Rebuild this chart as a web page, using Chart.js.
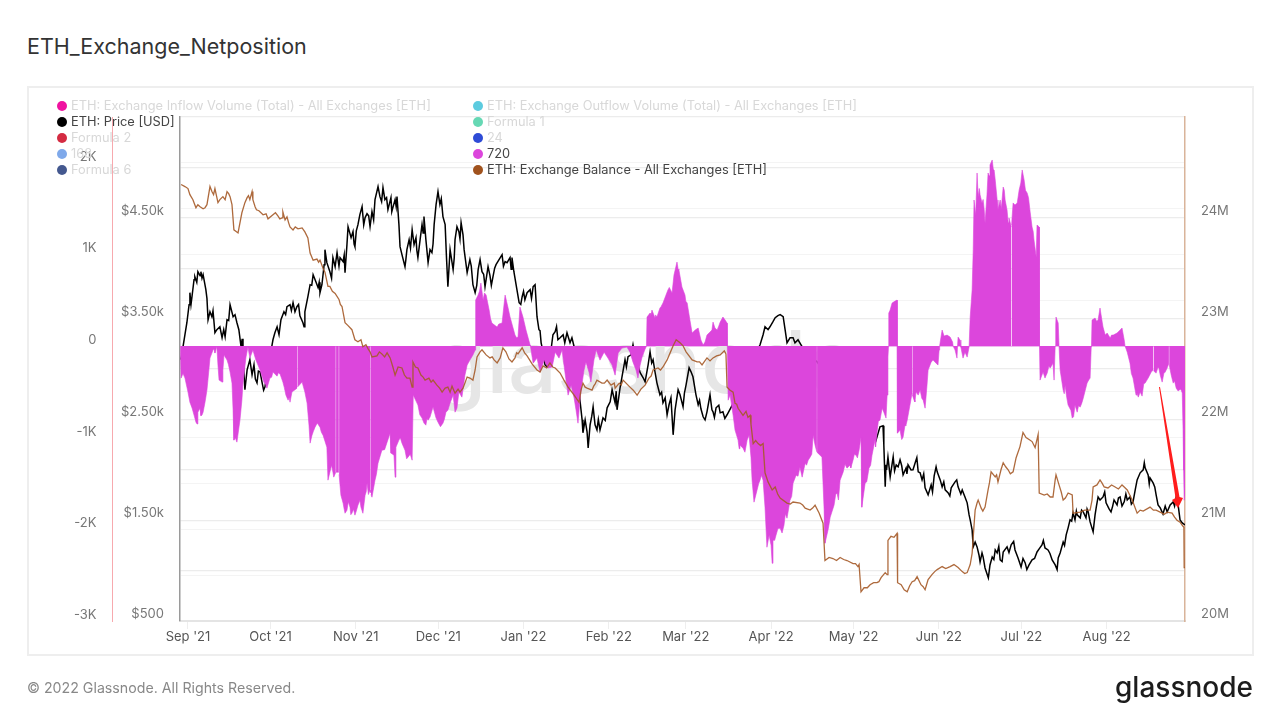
<!DOCTYPE html>
<html>
<head>
<meta charset="utf-8">
<title>ETH_Exchange_Netposition</title>
<script src="https://cdn.jsdelivr.net/npm/chart.js@4"></script>
<style>
  html, body { margin: 0; padding: 0; background: #fff; width: 1280px; height: 720px; overflow: hidden; font-family: Inter, sans-serif; }
  #title { position: absolute; left: 27px; top: 33px; font-size: 21.5px; line-height: 26px; font-weight: 400; color: #333; }
  #card { position: absolute; left: 27px; top: 86px; width: 1223px; height: 566px; border: 2px solid #eeeeee; }
  #chart { position: absolute; left: 0; top: 0; }
  #legend div { position: absolute; font-size: 12.8px; line-height: 16px; white-space: nowrap; }
  #legend i { position: absolute; left: -14px; top: 3px; width: 10px; height: 10px; border-radius: 50%; }
  #copy { position: absolute; left: 27px; top: 679px; font-size: 14.2px; line-height: 18px; color: #888; }
  #logo { position: absolute; right: 27px; top: 668px; font-size: 28px; line-height: 38px; font-weight: 500; color: #1c1c1c; }
</style>
</head>
<body>
<div id="title">ETH_Exchange_Netposition</div>
<div id="card"></div>
<canvas id="chart" width="1280" height="720"></canvas>
<div id="legend"></div>
<div id="copy">© 2022 Glassnode. All Rights Reserved.</div>
<div id="logo">glassnode</div>

<script>
// days are counted from 1 Sep 2021
const monthDays = [0, 30, 61, 91, 122, 153, 181, 212, 242, 273, 303, 334];
const monthLabels = ["Sep '21", "Oct '21", "Nov '21", "Dec '21", "Jan '22", "Feb '22", "Mar '22", "Apr '22", "May '22", "Jun '22", "Jul '22", "Aug '22"];

const netTicks = [-3000, -2500, -2000, -1500, -1000, -500, 0, 500, 1000, 1500, 2000];
const netTickLabels = ["-3K", "", "-2K", "", "-1K", "", "0", "", "1K", "", "2K"];
const priceTicks = [500, 1000, 1500, 2000, 2500, 3000, 3500, 4000, 4500, 5000, 5500];
const priceTickLabels = ["$500", "", "$1.50k", "", "$2.50k", "", "$3.50k", "", "$4.50k", "", ""];
const balanceTicks = [20, 21, 22, 23, 24];
const balanceTickLabels = ["20M", "21M", "22M", "23M", "24M"];

const legendNames = [
  "ETH: Exchange Inflow Volume (Total) - All Exchanges [ETH]", "ETH: Price [USD]", "Formula 2", "168", "Formula 6",
  "ETH: Exchange Outflow Volume (Total) - All Exchanges [ETH]", "Formula 1", "24", "720", "ETH: Exchange Balance - All Exchanges [ETH]"
];
const legendColors = ["#f012a0", "#000000", "#d42b42", "#7fa9ea", "#44588f", "#5ccbdf", "#66d8b4", "#2e4bd6", "#dc46dc", "#a0521d"];
const legendActive = [false, true, false, false, false, false, false, false, true, true];

const priceDays = [
  -2.5,-1.8,-1.1,-0.4,0.4,0.7,1.5,2.2,2.5,3.6,
  4.4,4.7,5.5,6.5,7.3,8,8.7,9.1,9.8,10.5,
  11.6,12.4,13.5,14.2,15.3,16.4,17.1,17.8,18.5,19.3,
  20,20.7,21.5,22.5,23.3,24,25.1,26.2,26.9,28,
  29.1,30.9,31.6,32.4,33.1,33.8,34.9,36,37.1,38.2,
  38.9,39.6,40.7,41.8,42.5,43.6,44.4,45.5,46.5,47.3,
  48,48.7,49.5,49.8,50.5,51.6,52.7,53.5,54.2,55.3,
  56.4,57.1,57.8,58.2,59.3,60,60.7,61.8,62.5,63.3,
  64.4,65.1,66.2,66.9,68,69.1,69.8,70.9,71.6,72.7,
  73.8,74.5,75.3,76,76.7,77.1,77.8,78.9,79.6,80.4,
  81.5,82.2,82.9,83.6,84.4,85.1,85.8,86.5,87.3,88,
  88.7,89.5,90.2,90.9,91.6,92.7,93.5,94.5,95.3,96.4,
  97.1,97.8,98.5,99.3,100.4,101.5,102.5,103.6,104.4,105.5,
  106.2,106.9,108,109.1,109.8,110.9,112,113.1,114.2,115.3,
  116,117.1,117.8,118.5,119.6,120.4,121.5,122.5,123.3,124.4,
  125.5,126.2,126.9,127.6,128.4,129.1,129.8,130.5,131.3,132,
  132.7,133.5,134.5,135.3,136.4,137.8,138.9,140.4,141.8,142.5,
  143.3,143.6,144.4,145.1,145.5,146.2,147.3,148,148.7,149.8,
  150.9,152.4,153.5,154.2,155.3,156,157.1,157.8,158.9,160,
  161.1,161.8,162.9,164.4,165.5,166.2,167.3,168,169.1,169.8,
  170.5,171.6,172.7,173.5,174.2,174.9,175.6,176.4,177.1,178.2,
  178.9,180,181.1,182.2,182.9,183.6,184.7,185.5,186.5,187.3,
  188,188.7,189.8,190.5,190.9,192,193.5,194.5,196,198.9,
  202.5,206.2,208,209.1,209.8,210.9,211.6,212.7,213.5,214.5,
  215.3,216.4,217.1,217.8,218.9,220,220.7,221.8,224.4,228.7,
  233.5,238.9,244.4,248,250.2,251.6,252.7,253,253.5,253.8,
  254.5,255.3,256.4,257.5,258.2,258.9,260,261.1,261.8,262.9,
  264.4,265.5,266.2,266.9,268,269.1,270.2,271.3,272.4,273.5,
  274.2,275.3,276.4,277.5,278.9,280,281.5,282.5,283.3,284,
  284.4,285.1,285.5,286.2,286.9,287.6,288,288.7,289.1,289.8,
  291,291.6,292.4,293.5,294.2,295.3,296.4,297.8,299.3,300.7,
  301.8,302.9,304.4,305.8,306.9,308.7,310.5,311.6,312.7,314.2,
  315.3,316.4,317.1,318.2,319.3,320,320.7,321.8,322.5,323.3,
  324.4,325.5,326.5,327.3,328,329.1,329.8,330.9,331.6,332.7,
  333.8,334.9,335.6,336.7,337.8,338.9,340.4,341.5,342.5,343.6,
  344.4,345.1,346.2,347.3,348,349.1,349.8,350.9,352,352.7,
  353.5,354.5,356,357.1,358.2,359.3,360,360.7,361.5,362.5
];
const priceValues = [
  3092,3221,3340,3459,3638,3757,3727,3886,3916,3965,
  3926,3965,3936,3787,3489,3568,3519,3578,3360,3390,
  3419,3310,3320,3489,3638,3519,3539,3459,3390,3221,
  3122,2794,2992,3092,2943,3042,2863,2972,2873,2823,
  3042,3290,3360,3419,3340,3489,3568,3618,3638,3658,
  3568,3618,3528,3459,3568,3717,3836,3936,3866,3807,
  3757,3836,4035,4184,4055,3965,4105,4015,4154,4105,
  4065,3956,4234,4412,4303,4363,4214,4432,4531,4611,
  4502,4541,4412,4561,4680,4809,4710,4800,4680,4581,
  4700,4601,4680,4710,4432,4214,4134,4015,4184,4283,
  4382,4234,4303,4105,4283,4432,4512,4283,4055,4184,
  4154,4432,4631,4760,4631,4512,4432,3817,4184,3985,
  4283,4412,4363,4452,4184,3956,4085,3836,3757,3985,
  4085,3965,3817,4015,3926,3916,4035,4085,4134,4065,
  4055,4105,4105,3965,3787,3658,3717,3687,3757,3787,
  3817,3836,3519,3390,3260,3171,3042,3022,3141,3191,
  3340,3370,3290,3310,3340,3360,3260,3221,2992,2694,
  2496,2367,2496,2377,2218,2446,2625,2446,2396,2396,
  2516,2615,2675,2794,2665,2595,2814,2923,3092,3122,
  3141,3241,3072,2963,2913,2873,3042,3171,3092,2972,
  2863,2744,2665,2714,2546,2645,2714,2347,2595,2794,
  2744,2625,2843,3012,2972,2923,2744,2645,2605,2526,
  2496,2575,2744,2595,2575,2615,2565,2575,2546,2694,
  2992,3141,3241,3340,3419,3390,3419,3469,3509,3529,
  3539,3519,3390,3260,3310,3310,3260,3290,3171,3072,
  2893,2694,2595,2496,2297,2426,2436,2248,1831,2049,
  2128,1930,2128,2049,2029,2099,1950,2019,2049,1999,
  2069,1980,1970,1900,1821,1751,1850,1940,1980,1900,
  1831,1801,1771,1821,1880,1831,1801,1731,1672,1552,
  1503,1403,1235,1284,1235,1155,1086,1175,1135,1026,
  927,1056,1135,1205,1175,1106,1185,1235,1255,1205,
  1126,1036,1076,1056,1106,1185,1255,1225,1205,1106,
  1056,1126,1175,1284,1354,1424,1503,1573,1503,1553,
  1523,1582,1523,1582,1483,1384,1553,1731,1701,1731,
  1672,1612,1582,1701,1652,1731,1682,1701,1731,1682,
  1801,1900,1970,2000,2019,1950,1920,1870,1751,1652,
  1622,1562,1582,1652,1682,1731,1652,1503,1473,1453
];
// smaller wiggles of the price line, merged in by day
const priceWiggleDays = [
  1.1,3.2,5.1,6.9,13,14.8,19.7,24.5,25.6,27.5,
  30,35.5,37.6,40.2,42.2,45,47.7,52.2,54.9,56.8,
  60.4,61.2,63.9,65.7,67.5,70.4,72.2,74.1,75.7,79.2,
  80.9,83.2,85.5,89.1,92.1,94,96.8,98.9,100,103,
  105,107.5,110.3,111.5,114.7,117.5,121,122,124.9,128,
  131.7,134,137,139.6,146.8,149.2,151.7,155.7,159.4,163.6,
  168.6,172.2,180.5,186,191.4,193,195.2,254,256.9,259.5,
  261.4,263.6,265,267.5,270.7,272,274.8,277,279.5,281,
  293,294.8,296,298.5,300.2,303.6,305,307.8,309.6,311,
  313.4,316,318.7,321.3,323,324.9,326.9,330.3,333.3,336.2,
  338.3,339.6,341,343,347.7,349.5,351.5,355.3,358.7
];
const priceWiggleValues = [
  3640,3860,3900,3700,3390,3480,3300,2900,2980,2790,
  3150,3540,3580,3640,3420,3830,3860,3900,4020,4130,
  4240,4370,4430,4520,4480,4660,4700,4560,4610,4080,
  4200,4180,4350,4240,4690,4100,4100,4290,4330,4020,
  3830,3940,3830,4000,4020,3990,3640,3770,3700,3380,
  3050,3420,3260,3310,2530,2500,2490,2780,3020,3040,
  3060,2770,2760,2690,2520,2640,2510,2000,1990,2040,
  1960,2000,2120,1960,1780,2030,1880,1740,1900,1760,
  1110,1240,1090,1180,1290,1120,1010,1120,1220,1300,
  1170,1010,1250,1490,1590,1600,1610,1640,1780,1640,
  1720,1640,1760,1660,2070,1860,1830,1640,1640
];

const balanceDays = [
  -2.5,-1.1,0,0.7,1.8,2.9,3.6,4.4,5.5,6.9,
  8,8.7,9.8,10.9,11.6,12.7,13.5,14.2,15.3,16,
  16.7,18.2,19.6,20.7,21.5,22.5,23.3,23.6,24.4,25.8,
  27.3,28.4,29.1,30.9,32.7,34.2,34.5,35.3,36,37.1,
  38.2,40,41.5,42.5,43.6,44.4,45.5,46.9,48,49.1,
  49.8,50.9,51.6,53.5,54.9,56,57.1,58.2,59.6,60.7,
  61.8,62.9,63.6,64.7,66.2,66.9,68.7,70.5,72.4,73.5,
  74.5,75.3,76.4,77.8,79.6,80.7,81.5,81.8,83.6,84.7,
  86.2,87.6,89.1,90.5,92.4,93.5,94.5,95.3,96,97.1,
  98.2,98.9,100,101.5,102.5,103.6,104.4,105.1,106.2,106.9,
  108.4,109.8,111.3,112.4,113.5,114.5,115.6,116.7,117.8,118.9,
  120,121.5,123.3,125.1,126.9,129.1,131.6,133.5,135.3,136.7,
  138.2,140.4,142.2,142.9,143.6,145.1,146.9,148,148.7,150.5,
  152.4,153.8,155.3,156.8,158.2,160.7,163.3,164.7,166.2,167.6,
  169.1,170.9,172.7,174.2,175.3,176.4,177.5,178.9,181.1,183.3,
  185.1,186.9,188.7,190.9,193.5,195,195.6,196,197.1,198.2,
  198.9,200,201.8,202.9,204.4,204.7,205.5,207.3,209.1,209.8,
  210.9,212.4,213.5,215.3,217.8,220,222.5,224.4,226.2,228,
  229.5,230.9,231.6,233.1,234.5,237.1,239.6,241.8,243.6,244,
  244.7,245.8,248,250.5,252,253.5,254.2,254.5,255.6,257.8,
  258,259.3,260.4,261.5,263.3,265.1,266.5,268,269.1,270.5,
  272.4,274.2,277.1,280,281.5,283.3,284.4,285.1,285.8,286.2,
  286.9,287.3,288.4,289.8,290.9,292,293.5,294.5,295.6,296.4,
  298.2,300,301.1,302.5,303.6,305.8,308,309.1,309.5,311.3,
  313.5,314.5,315.3,315.6,316.7,318.2,320,321.5,321.8,324.4,
  328,328.7,329.1,330.5,331.6,333.1,334.5,337.1,339.6,341.5,
  343.3,345.1,347.3,349.8,352,354.2,356,357.8,359.6,360.7,
  361.5,362.1,362.2,362.5
];
const balanceValues = [
  24.33,24.31,24.29,24.23,24.18,24.10,24.13,24.11,24.09,24.13,
  24.31,24.26,24.29,24.15,24.18,24.21,24.18,24.26,24.21,24.13,
  23.88,23.85,24.05,24.15,24.20,24.18,24.26,24.18,24.11,24.07,
  24.03,24.04,23.99,24.03,24.02,24.00,24.06,23.98,24.01,23.91,
  23.88,23.89,23.90,23.86,23.80,23.65,23.58,23.59,23.58,23.50,
  23.46,23.32,23.32,23.25,23.19,23.12,22.96,22.93,22.89,22.79,
  22.77,22.79,22.72,22.74,22.67,22.62,22.63,22.65,22.66,22.61,
  22.52,22.44,22.52,22.51,22.41,22.41,22.32,22.57,22.51,22.44,
  22.39,22.41,22.39,22.34,22.27,22.31,22.32,22.27,22.33,22.26,
  22.30,22.27,22.31,22.42,22.41,22.39,22.49,22.62,22.67,22.69,
  22.64,22.61,22.59,22.56,22.61,22.71,22.67,22.60,22.57,22.61,
  22.65,22.71,22.63,22.55,22.49,22.53,22.56,22.51,22.46,22.39,
  22.32,22.24,22.17,22.29,22.36,22.31,22.29,22.35,22.39,22.36,
  22.39,22.34,22.31,22.36,22.39,22.32,22.24,22.30,22.34,22.41,
  22.49,22.51,22.52,22.59,22.66,22.73,22.79,22.76,22.67,22.59,
  22.57,22.54,22.61,22.61,22.64,22.68,22.65,22.32,22.29,22.27,
  22.16,22.11,22.04,22.08,22.04,21.95,21.76,21.76,21.76,21.47,
  21.38,21.30,21.33,21.22,21.17,21.18,21.17,21.12,21.10,21.15,
  21.07,20.97,20.60,20.63,20.62,20.63,20.60,20.57,20.54,20.56,
  20.29,20.33,20.36,20.38,20.43,20.48,20.46,20.80,20.84,20.87,
  20.38,20.36,20.31,20.29,20.39,20.44,20.36,20.31,20.41,20.46,
  20.51,20.54,20.54,20.53,20.49,20.48,20.56,20.67,20.95,21.10,
  21.17,21.20,21.12,21.13,21.30,21.48,21.43,21.38,21.50,21.57,
  21.50,21.48,21.62,21.73,21.87,21.80,21.72,21.85,21.27,21.25,
  21.23,21.23,21.40,21.45,21.35,21.20,21.27,21.25,21.07,21.08,
  21.10,21.20,21.33,21.35,21.40,21.33,21.32,21.33,21.35,21.30,
  21.20,21.07,21.09,21.13,21.10,21.07,21.08,21.07,21.00,20.98,
  20.95,20.93,20.53,20.53
];
const balanceWiggleDays = [
  2.2,6.2,9.3,14.8,22,24.9,31.8,33.4,36.6,39,
  47.5,52.5,55.4,65.5,69.6,71.5,78.7,82.7,85.5,88.4,
  91.5,110.6,114,119.5,122.4,128,130.4,132.6,144.4,147.5,
  151.4,155,157.5,161.9,168.4,171.8,180,186,189.8,192.2,
  199.5,203.6,206.4,208.2,214.4,219,223.5,227.1,235.8,238.4,
  242.7,247,249.3,251.2,256.7,262.4,264.2,267.3,271.5,275.5,
  278.5,282.4,289,291.4,294,297.3,299,304.7,306.9,312.4,
  317.5,319,326,332.3,335.8,338.3,340.4,346.2,351,355,
  358.7
];
const balanceWiggleValues = [
  24.15,24.10,24.23,24.24,24.22,24.08,24.05,23.99,23.95,23.91,
  23.56,23.27,23.14,22.70,22.67,22.62,22.44,22.52,22.42,22.37,
  22.31,22.62,22.66,22.66,22.66,22.47,22.51,22.52,22.32,22.33,
  22.36,22.36,22.34,22.29,22.43,22.49,22.73,22.57,22.58,22.63,
  22.15,22.02,21.79,21.74,21.26,21.16,21.15,21.12,20.60,20.61,
  20.57,20.33,20.38,20.39,20.83,20.35,20.40,20.34,20.49,20.52,
  20.56,20.47,21.09,21.37,21.45,21.53,21.46,21.82,21.78,21.26,
  21.28,21.22,21.10,21.37,21.35,21.31,21.33,21.10,21.10,21.06,
  21.03
];

// the "720" series, null marks the thin breaks in the area
const netDays = [
  -2.8,-2.5,-1.1,0,0.7,1.5,2.2,2.9,3.6,4.4,
  5.1,5.5,6.2,6.9,7.6,8,9.1,9.8,10.5,10.9,
  11.3,12.4,12.7,13.1,14.2,15.3,16,16.4,16.7,17.8,
  18.5,18.9,19.6,20,21.1,21.8,22.5,23.6,24.7,26.2,
  27.6,28.7,29.8,30.9,32.4,33.5,34.5,35.6,36.4,37.1,
  37.8,39.66,39.7,39.74,41.5,42.5,43.3,44,44.4,45.1,
  46.2,48,49.1,50.5,50.9,51.6,52.7,53.76,53.8,53.84,
  54.86,54.9,54.94,55.6,56.4,57.1,57.8,58.9,59.6,60.7,
  61.8,62.5,63.6,64.4,65.1,66.2,66.46,66.5,66.54,66.9,
  68,69.1,70.5,72.4,73.5,73.8,74.9,75.3,75.6,76.7,
  77.8,78.9,80,81.5,81.8,81.9,83.6,85.1,86.5,87.3,
  88,89.1,90.2,90.9,92.7,93.8,95.3,96.4,97.1,97.8,
  98.5,99.6,100.7,101.5,102.5,103.6,104.4,104.5,104.7,105.5,
  106.5,107.3,108.4,109.5,110.5,112.4,114.2,114.9,115.3,116.4,
  117.1,118.9,120,120.7,121.8,122.9,123.6,124.4,124.5,125.5,
  126.9,128,129.5,130.9,132.4,133.5,134.9,136,137.1,138.2,
  139.3,140.4,141.1,141.8,142.5,143.3,144,144.7,145.8,146.5,
  147.6,148.4,149.8,151.3,152.7,154.2,155.3,156.4,157.8,159.6,
  160.7,161.8,162.9,163.6,164.4,165.1,166.2,166.7,166.9,168,
  168.7,169.8,170.5,171.6,172.7,173.8,174.5,176,176.7,177.8,
  178.5,179.6,180.7,181.5,182.5,183.3,184.4,185.5,186.5,187.3,
  188,188.7,189.8,190.5,190.9,191.6,192.4,193.5,194.5,195.3,
  196,196.1,196.4,197.1,198.2,198.9,200,200.7,201.8,202.5,
  203.3,204,204.7,205.1,205.8,206.9,208,209.1,209.8,210.5,
  211.3,212,212.4,212.7,213.8,215.3,216.7,217.8,218.9,220,
  221.1,222.5,223.3,224.4,225.5,226.2,227.3,228,228.66,228.7,
  228.74,229.8,230.5,231.3,231.6,232.7,233.5,234.9,236,237.1,
  238.2,239.6,240.7,241.8,242.9,244,244.7,245,246.2,247.6,
  248.7,249.8,250.5,251.6,252.4,253,253.8,254.2,254.5,254.7,
  254.8,255.3,256,257.1,257.8,257.9,258,258.9,260,260.7,
  261.5,262.5,263.26,263.3,263.34,264,264.7,265.5,266.2,267.3,
  268,268.7,269.1,270.2,270.9,272,272.7,273.1,273.3,273.5,
  274.2,274.9,276,277.1,278,278.2,278.9,279.6,279.8,280,
  280.7,281,281.8,282.5,283.3,284,284.4,285.1,285.5,285.8,
  286.4,286.9,287.3,288,288.7,289.5,289.8,290.5,290.9,291.6,
  292.4,293.1,293.5,294.2,294.5,295.3,296.4,297.1,297.8,298.5,
  299.36,299.4,299.44,300,300.7,301.5,302.2,303.3,304,305.1,
  306.2,306.9,307.6,308.4,308.7,309.5,309.6,309.8,310.9,311.6,
  312.4,313.5,314.5,314.9,315.3,315.5,315.6,316.4,316.7,317.1,
  318.2,318.9,320,321.5,322.5,323.3,324.4,325.5,326.9,328,
  328.4,328.5,328.7,329.8,330.9,331.6,332.4,332.7,334.2,335.3,
  336.4,337.8,338.9,339.6,340.4,340.7,341.5,342.5,343.6,344.7,
  345.5,346.2,346.9,348,349.1,350.2,350.96,351,351.04,352,
  352.7,353.5,354.2,355.3,356.66,356.7,356.74,357.5,358.2,359.3,
  360.4,361.5,361.8,362,362.2,362.5
];
const netValues = [
  0,-349,-349,-502,-612,-677,-753,-830,-721,-677,
  -753,-721,-612,-480,-262,-131,-44,-76,-5,-207,
  -371,-393,-262,-98,-153,-284,-404,-699,-1026,-1048,
  -895,-808,-590,-404,-120,-11,-131,-44,-153,-262,
  -393,-459,-349,-284,-328,-306,-393,-535,-590,-612,
  -502,-459,null,-450,-393,-502,-622,-863,-1059,-972,
  -885,-885,-972,-1103,-1463,-1376,-1376,-1376,null,-1376,
  -1376,null,-1400,-1627,-1714,-1824,-1791,-1758,-1824,-1845,
  -1736,-1682,-1824,-1627,-1496,-1572,-1600,null,-1620,-1649,
  -1463,-1278,-1136,-1048,-950,-1168,-1190,-1430,-1103,-1026,
  -1059,-1136,-1212,-1245,-1245,-535,-644,-786,-863,-808,
  -775,-666,-786,-830,-841,-721,-622,-535,-721,-677,
  -502,-557,-317,-207,-153,-98,-44,0,502,557,
  688,502,557,393,251,207,251,448,557,415,
  317,120,98,426,317,175,98,11,0,-186,
  -131,-284,-153,-240,-229,-66,-131,-44,-295,-535,
  -426,-568,-699,-841,-590,-404,-262,-175,-284,-393,
  -153,-44,-153,-66,-131,-207,-317,-76,-22,-11,
  -66,-175,-262,-349,-207,-120,-33,0,317,360,
  393,306,317,415,470,557,612,579,775,917,
  830,644,557,470,284,142,175,197,66,11,
  44,120,153,175,262,197,175,262,317,284,
  251,0,-590,-535,-753,-917,-1026,-1081,-1114,-1158,
  -1026,-972,-1212,-1463,-1703,-1572,-1463,-1463,-1758,-2195,
  -2064,-2173,-2370,-2118,-2064,-1987,-1955,-1878,-1682,-1496,
  -1409,-1321,-1430,-1278,-1245,-1212,-972,-1081,-1158,null,
  -1160,-1190,-1212,-1791,-2151,-2009,-1867,-1736,-1605,-1463,
  -1376,-1332,-1299,-1245,-1190,-1136,-994,-1758,-1496,-1332,
  -1190,-1026,-950,-808,-677,-721,-786,-535,-120,0,
  360,393,470,491,502,0,-950,-917,-994,-863,
  -808,-644,-513,null,-530,-590,-502,-535,-480,-590,
  -677,-426,-262,-175,-153,-186,-207,-44,0,44,
  175,109,120,98,44,0,-44,-131,0,98,
  66,-11,-131,-66,-120,-11,317,612,1048,1594,
  1431,1889,1627,1649,1562,1485,1343,1649,1889,1977,
  2031,1922,1813,1594,1485,1594,1736,1594,1485,1398,
  1299,null,1320,1562,1540,1562,1704,1922,1813,1671,
  1463,1299,1158,972,1321,1299,0,-371,-284,-349,
  -295,-240,-186,-371,0,229,317,251,0,-262,
  -480,-426,-644,-786,-644,-721,-666,-568,-404,-349,
  -11,0,284,306,284,415,262,207,142,87,
  120,142,175,197,66,0,-66,-186,-349,-535,
  -557,-502,-546,-404,-349,-284,-262,null,-270,-295,
  -229,-317,-393,-284,-186,null,-200,-317,-404,-459,
  -480,-513,-917,-1354,-1682,-1627
];
const netWiggleDays = [
  -1.8,3.3,4.7,9.5,14.7,17.2,28.2,30.4,32.9,35,
  36.8,45.6,47,48.5,52.2,53,56.8,58.3,59.2,60.2,
  61.2,62.9,64.8,65.6,68.5,71.5,77.2,79.5,80.8,84.3,
  85.8,86.9,91.8,93.2,94.5,106,107.8,110,113,119.5,
  168.3,170,172,175,178.2,181,193,200.4,207.5,208.5,
  213.3,214.5,216,217.2,219.5,221.8,224.9,226.8,233,235.5,
  236.5,238.9,241,242.3,243.4,246.8,248.2,250,251,252,
  259.5,261,264.3,266.8,287.7,289.1,291.3,292.8,295.7,296.8,
  298.2,302.8,304.5,305.6,307.3,312,313,318.6,319.5,321,
  322,323.8,325,327.5,330.4,333.5,335.8,343,345,347.5,
  349.6,353,354.8,356,358.7,360,361
];
const netWiggleValues = [
  -300,-850,-760,-30,-200,-1000,-420,-340,-290,-450,
  -560,-930,-840,-940,-1300,-1430,-1780,-1700,-1840,-1780,
  -1800,-1760,-1590,-1620,-1400,-1130,-1000,-1230,-1180,-750,
  -840,-790,-880,-800,-700,600,580,300,240,90,
  330,340,430,640,840,490,220,-1120,-1500,-1410,
  -2120,-1990,-2040,-1830,-1640,-1420,-1300,-1180,-1960,-1620,
  -1680,-1290,-1330,-1180,-1220,-1480,-1300,-1100,-820,-740,
  -1020,-870,-610,-570,1720,1600,1860,1930,1500,1700,
  1350,1780,1700,1620,1250,-320,-220,-520,-560,-700,
  -770,-650,-620,-370,270,120,120,-300,-510,-410,
  -320,-240,-300,-240,-380,-490,-470
];

const chartFont = { family: "Inter, sans-serif", size: 13 };
const tickColor = "#777";

// zip a series with its wiggles and keep it in day order
function points(days, values, extraDays, extraValues) {
  const list = days.map((d, i) => ({ x: d, y: values[i] }));
  extraDays.forEach((d, i) => list.push({ x: d, y: extraValues[i] }));
  return list.sort((a, b) => a.x - b.x);
}

function useTicks(list) {
  return (axis) => { axis.ticks = list.map((v) => ({ value: v })); };
}

function labelFrom(list, labels) {
  return (value) => labels[list.indexOf(value)];
}

// watermark sits behind the series, arrow is the hand drawn one on top
const overlayPlugin = {
  id: "overlay",
  beforeDatasetsDraw(chart) {
    const ctx = chart.ctx;
    ctx.save();
    ctx.font = "500 86px Inter, sans-serif";
    ctx.fillStyle = "#e6e6e6";
    ctx.textAlign = "center";
    ctx.fillText("glassnode", 645, 393);
    ctx.restore();
  },
  afterDraw(chart) {
    const ctx = chart.ctx;
    ctx.save();
    ctx.fillStyle = "#ff1d1d";
    ctx.beginPath();
    ctx.moveTo(1159, 387);
    ctx.lineTo(1160, 387);
    ctx.lineTo(1179.5, 497);
    ctx.lineTo(1183, 498);
    ctx.lineTo(1178, 508);
    ctx.lineTo(1172, 500);
    ctx.lineTo(1175.5, 498);
    ctx.closePath();
    ctx.fill();
    ctx.restore();
  }
};

const legendBox = document.getElementById("legend");
legendNames.forEach((name, i) => {
  const item = document.createElement("div");
  item.style.left = (i < 5 ? 71 : 487) + "px";
  item.style.top = (98 + (i % 5) * 16) + "px";
  item.style.color = legendActive[i] ? "#444" : "#d8d8d8";
  item.textContent = name;
  const dot = document.createElement("i");
  dot.style.background = legendColors[i];
  item.appendChild(dot);
  legendBox.appendChild(item);
});

new Chart(document.getElementById("chart"), {
  type: "line",
  data: {
    datasets: [
      {
        label: legendNames[9],
        data: points(balanceDays, balanceValues, balanceWiggleDays, balanceWiggleValues),
        yAxisID: "yBalance",
        borderColor: "rgba(165,90,40,0.9)",
        borderWidth: 1.3,
        order: 1
      },
      {
        label: legendNames[8],
        data: points(netDays, netValues, netWiggleDays, netWiggleValues),
        yAxisID: "yNet",
        borderColor: "#dc46dc",
        borderWidth: 0.6,
        backgroundColor: "#dc46dc",
        fill: "origin",
        order: 2
      },
      {
        label: legendNames[1],
        data: points(priceDays, priceValues, priceWiggleDays, priceWiggleValues),
        yAxisID: "yPrice",
        borderColor: "#000",
        borderWidth: 1.5,
        order: 3
      }
    ]
  },
  options: {
    responsive: false,
    animation: false,
    devicePixelRatio: 1,
    layout: { padding: { left: 32.5, right: 35, top: 117, bottom: 59 } },
    elements: { point: { radius: 0 }, line: { tension: 0 } },
    plugins: { legend: { display: false }, tooltip: { enabled: false } },
    scales: {
      x: {
        type: "linear",
        min: -2.9,
        max: 362.5,
        afterBuildTicks: useTicks(monthDays),
        afterFit(axis) { axis.height = 40; },
        ticks: {
          font: chartFont,
          color: "#555",
          padding: 0,
          autoSkip: false,
          maxRotation: 0,
          callback: labelFrom(monthDays, monthLabels)
        },
        grid: { drawOnChartArea: false, tickLength: 8, tickColor: "#eeeeee" },
        border: { color: "#e4e4e4", width: 2 }
      },
      yNet: {
        type: "linear",
        position: "left",
        weight: 1,
        min: -3000,
        max: 2500,
        afterBuildTicks: useTicks(netTicks),
        afterFit(axis) { axis.width = 80; },
        ticks: {
          font: chartFont,
          color: tickColor,
          padding: 16,
          labelOffset: -6,
          autoSkip: false,
          callback: labelFrom(netTicks, netTickLabels)
        },
        grid: {
          drawTicks: false,
          color: (c) => (c.tick.value === 0 ? "#efb8ef" : "#f4f4f4")
        },
        border: { color: "#f7a9ae", width: 1 }
      },
      yPrice: {
        type: "linear",
        position: "left",
        weight: 0,
        min: 500,
        max: 5500,
        afterBuildTicks: useTicks(priceTicks),
        afterFit(axis) { axis.width = 67.5; },
        ticks: {
          font: chartFont,
          color: tickColor,
          padding: 16,
          labelOffset: -7,
          autoSkip: false,
          callback: labelFrom(priceTicks, priceTickLabels)
        },
        grid: { drawTicks: false, color: "#ececec", lineWidth: 1.2 },
        border: { color: "#9a9a9a", width: 1.5 }
      },
      yBalance: {
        type: "linear",
        position: "right",
        min: 20,
        max: 25,
        afterBuildTicks: useTicks(balanceTicks),
        afterFit(axis) { axis.width = 60; },
        ticks: {
          font: chartFont,
          color: tickColor,
          padding: 16,
          labelOffset: -7,
          autoSkip: false,
          callback: labelFrom(balanceTicks, balanceTickLabels)
        },
        grid: { drawOnChartArea: false, drawTicks: false },
        border: { color: "#d9b49a", width: 1.5 }
      }
    }
  },
  plugins: [overlayPlugin]
});
</script>
</body>
</html>
